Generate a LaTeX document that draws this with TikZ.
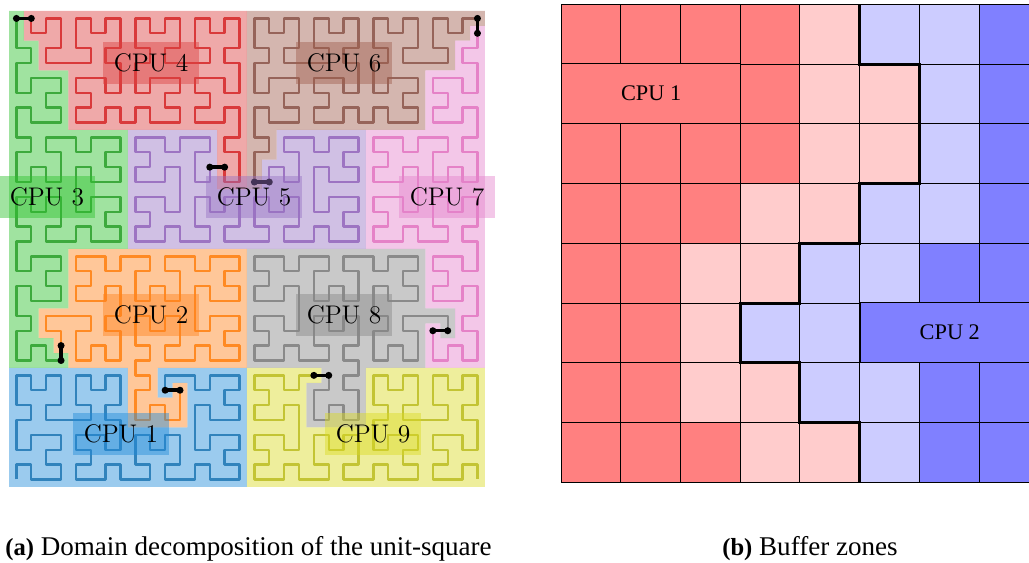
\documentclass[tikz,border=0pt]{standalone}
\usepackage{fontspec}
\newfontfamily\capfont{Liberation Serif}
\usetikzlibrary{positioning}

\definecolor{cpu1}{HTML}{1F77B4}
\definecolor{cpu2}{HTML}{FF7F0E}
\definecolor{cpu3}{HTML}{2CA02C}
\definecolor{cpu4}{HTML}{D62728}
\definecolor{cpu5}{HTML}{9467BD}
\definecolor{cpu6}{HTML}{8C564B}
\definecolor{cpu7}{HTML}{E377C2}
\definecolor{cpu8}{HTML}{7F7F7F}
\definecolor{cpu9}{HTML}{BCBD22}
\definecolor{area1}{HTML}{218BD9}
\definecolor{area2}{HTML}{FF831C}
\definecolor{area3}{HTML}{2CC12C}
\definecolor{area4}{HTML}{DB4040}
\definecolor{area5}{HTML}{9773C3}
\definecolor{area6}{HTML}{9F5D4D}
\definecolor{area7}{HTML}{E483CC}
\definecolor{area8}{HTML}{878787}
\definecolor{area9}{HTML}{DADA23}
\definecolor{deepred}{HTML}{FF8080}
\definecolor{lightred}{HTML}{FFCCCC}
\definecolor{lightblue}{HTML}{CCCCFF}
\definecolor{deepblue}{HTML}{8080FF}

\tikzset{domfill/.style={fill opacity=0.45}}
\tikzset{domline/.style={line width=1.35pt, line join=round, draw opacity=0.85}}
\tikzset{domcut/.style={black, line width=2pt}}
\tikzset{domlabel/.style={
            font=\fontsize{14.5}{17}\selectfont, text=black, fill opacity=0.45, text opacity=1,
            minimum width=1.92cm, minimum height=0.86cm, inner sep=0pt
        }}
\tikzset{buflabel/.style={
            draw=black, line width=0.55pt, font=\capfont\fontsize{12.7}{15}\selectfont,
            minimum height=1.195cm, inner sep=0pt
        }}
\tikzset{caption/.style={anchor=base west, inner sep=0pt, font=\capfont\fontsize{15.4}{17}\selectfont}}
\newcommand{\captag}[1]{{\fontsize{14}{17}\selectfont\textbf{#1}}}
% a cut: line between two curve points with a dot on each
\newcommand{\cutline}[2]{%
    \draw[domcut] (#1) -- (#2);
    \fill[black] (#1) circle[radius=2pt] (#2) circle[radius=2pt];%
}

% turtle for the space-filling curve
\newcount\hx \newcount\hy \newcount\hdx \newcount\hdy
\newcount\hk \newcount\hdom \newcount\htmp
\newcommand{\turnL}{\htmp=\hdx \hdx=-\hdy \hdy=\htmp}
\newcommand{\turnR}{\htmp=\hdx \hdx=\hdy \hdy=-\htmp}
\newcommand{\startdom}{%
    \edef\cellpath{(\the\hx,\the\hy) rectangle ++(1,1)}%
    \edef\curvepath{(\the\hx.5,\the\hy.5)}%
    \coordinate (start\the\hdom) at (\the\hx.5,\the\hy.5);%
}
\newcommand{\flushdom}{%
    \edef\domcol{cpu\the\hdom}%
    \edef\areacol{area\the\hdom}%
    \fill[color=\areacol, domfill] \cellpath;%
    \draw[color=\domcol, domline] \curvepath;%
}
% first cell of the next domain
\newcommand{\nextstart}{\ifcase\hdom\or 115\or 229\or 342\or 456\or 570\or 683\or 797\or 911\else 99999\fi}
\newcommand{\hstep}{%
    \advance\hx by\hdx \advance\hy by\hdy \advance\hk by 1
    \ifnum\hk=\nextstart\relax
        \flushdom
        \coordinate (end\the\hdom) at (\the\numexpr\hx-\hdx\relax.5,\the\numexpr\hy-\hdy\relax.5);%
        \advance\hdom by 1
        \startdom
    \else
        \edef\cellpath{\cellpath (\the\hx,\the\hy) rectangle ++(1,1)}%
        \edef\curvepath{\curvepath -- (\the\hx.5,\the\hy.5)}%
    \fi
}
\newcommand{\hilbA}[1]{\ifnum#1>0
    \turnL \hilbB{\numexpr#1-1\relax}\hstep \turnR \hilbA{\numexpr#1-1\relax}\hstep
    \hilbA{\numexpr#1-1\relax}\turnR \hstep \hilbB{\numexpr#1-1\relax}\turnL
    \fi}
\newcommand{\hilbB}[1]{\ifnum#1>0
    \turnR \hilbA{\numexpr#1-1\relax}\hstep \turnL \hilbB{\numexpr#1-1\relax}\hstep
    \hilbB{\numexpr#1-1\relax}\turnL \hstep \hilbA{\numexpr#1-1\relax}\turnR
    \fi}

\begin{document}
\begin{tikzpicture}[x=0.02cm, y=0.02cm]

    \clip (0,0) rectangle (1029,562);

    % domains along the curve
    \begin{scope}[shift={(9,75.1)}, x=0.2975cm, y=0.2975cm]
        \hx=0 \hy=0 \hdx=1 \hdy=0 \hk=0 \hdom=1
        \startdom
        \hilbA{5}
        \flushdom

        % cuts between neighbouring domains
        \cutline{end1}{start2}
        \cutline{end2}{start3}
        \cutline{end3}{start4}
        \cutline{end4}{start5}
        \cutline{end5}{start6}
        \cutline{end6}{start7}
        \cutline{end7}{start8}
        \cutline{end8}{start9}
    \end{scope}

    \node(lblA)[domlabel, fill=area1] at (121,128){CPU 1};
    \node(lblB)[domlabel, fill=area2] at (151,247){CPU 2};
    \node(lblC)[domlabel, fill=area3] at (47,365){CPU 3};
    \node(lblD)[domlabel, fill=area4] at (151,499){CPU 4};
    \node(lblE)[domlabel, fill=area5] at (254,365){CPU 5};
    \node(lblF)[domlabel, fill=area6] at (344,499){CPU 6};
    \node(lblG)[domlabel, fill=area7] at (447,365){CPU 7};
    \node(lblH)[domlabel, fill=area8] at (344,247){CPU 8};
    \node(lblI)[domlabel, fill=area9] at (373,128){CPU 9};

    % buffer zones
    \begin{scope}[shift={(561,79.7)}, x=1.195cm, y=1.195cm]
        \fill[deepblue] (0,0) rectangle (8,8);
        \fill[lightblue] (0,8) -- (7,8) -- (7,4) -- (6,4) -- (6,3) -- (5,3) -- (5,2) -- (6,2) -- (6,0) -- (0,0) -- cycle;
        \fill[lightred] (0,8) -- (5,8) -- (5,7) -- (6,7) -- (6,5) -- (5,5) -- (5,4) -- (4,4) -- (4,3) -- (3,3) -- (3,2) -- (4,2) -- (4,1) -- (5,1) -- (5,0) -- (0,0) -- cycle;
        \fill[deepred] (0,8) -- (4,8) -- (4,5) -- (3,5) -- (3,4) -- (2,4) -- (2,1) -- (3,1) -- (3,0) -- (0,0) -- cycle;
        \draw[line width=0.55pt, step=1] (0,0) grid (8,8);

        \node(bufA)[buflabel, fill=deepred, minimum width=3.585cm, anchor=south west] at (0,6){CPU 1};
        \node(bufB)[buflabel, fill=deepblue, minimum width=3.585cm, anchor=south west] at (5,2){CPU 2};

        % border between the two processes
        \draw[line width=1.7pt, line join=miter] (5,8) -- (5,7) -- (6,7) -- (6,5) -- (5,5) -- (5,4) -- (4,4) -- (4,3) -- (3,3) -- (3,2) -- (4,2) -- (4,1) -- (5,1) -- (5,0);
    \end{scope}

    % captions
    \node(capA)[caption] at (5,7){\captag{(a)} Domain decomposition of the unit-square};
    \node(capB)[caption] at (722,7){\captag{(b)} Buffer zones};

\end{tikzpicture}
\end{document}
